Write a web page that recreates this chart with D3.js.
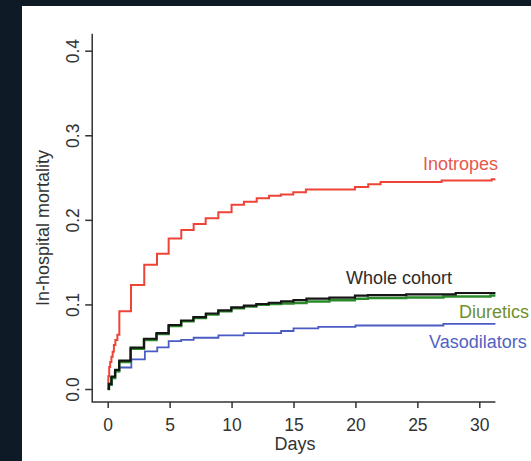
<!DOCTYPE html>
<html>
<head>
<meta charset="utf-8">
<script src="https://cdn.jsdelivr.net/npm/d3@7"></script>
<style>
  html, body { margin: 0; padding: 0; background: #0e1b27; }
  svg { display: block; }
  text { font-family: "Liberation Sans", Arial, sans-serif; }
</style>
</head>
<body>
<svg width="531" height="461"></svg>
<script>
// data: cumulative in-hospital mortality, step points (day, value)
var xTicks = [0, 5, 10, 15, 20, 25, 30]
var yTicks = [0, 0.1, 0.2, 0.3, 0.4]

var inoDays = [0, 0.05, 0.12, 0.2, 0.3, 0.4, 0.5, 0.62, 0.78, 0.94, 1.88, 2.95, 3.98, 4.92, 5.94, 6.94, 7.91, 8.93, 10.0, 11.0, 12.03, 13.02, 13.98, 14.98, 16.0, 19.96, 21.03, 22.03, 26.96, 31.0, 31.3]
var inoVals = [0, 0.015, 0.026, 0.032, 0.038, 0.044, 0.052, 0.058, 0.064, 0.092, 0.123, 0.147, 0.160, 0.178, 0.188, 0.195, 0.202, 0.209, 0.218, 0.2215, 0.2254, 0.2286, 0.230, 0.2325, 0.236, 0.2388, 0.242, 0.2447, 0.2464, 0.248, 0.248]

var allDays = [0, 0.1, 0.3, 0.6, 0.93, 1.85, 2.93, 3.94, 4.92, 5.93, 6.92, 7.93, 8.93, 9.98, 11.0, 12.0, 13.0, 14.0, 15.0, 16.05, 17.9, 19.96, 21.0, 24.1, 28.1, 31.3]
var allVals = [0, 0.006, 0.0146, 0.0225, 0.0335, 0.049, 0.0594, 0.066, 0.0757, 0.081, 0.085, 0.0893, 0.093, 0.0965, 0.0985, 0.1005, 0.102, 0.1035, 0.105, 0.1068, 0.108, 0.1103, 0.111, 0.112, 0.1135, 0.1135]

var diuDays = [0, 0.1, 0.3, 0.6, 0.93, 1.85, 2.93, 3.94, 4.92, 5.93, 6.92, 7.93, 8.93, 9.98, 11.0, 12.0, 13.0, 14.0, 15.0, 16.05, 17.9, 19.96, 21.0, 24.1, 27.1, 30.9, 31.3]
var diuVals = [0, 0.005, 0.013, 0.021, 0.032, 0.0475, 0.058, 0.065, 0.0745, 0.080, 0.084, 0.088, 0.092, 0.0955, 0.0975, 0.0995, 0.1005, 0.101, 0.1016, 0.1036, 0.1048, 0.1068, 0.1075, 0.1083, 0.1095, 0.1107, 0.1107]

var vasDays = [0, 0.1, 0.35, 0.6, 0.93, 1.91, 3.0, 4.0, 4.92, 5.93, 6.94, 8.94, 10.98, 14.0, 15.0, 17.0, 20.0, 27.1, 31.3]
var vasVals = [0, 0.005, 0.013, 0.021, 0.0254, 0.035, 0.0445, 0.0493, 0.0566, 0.058, 0.0606, 0.0635, 0.066, 0.0686, 0.0717, 0.0735, 0.0751, 0.0769, 0.0769]

var series = [
    { name: "Vasodilators", days: vasDays, vals: vasVals, color: "#4a5cc4", text: "#5163c2", w: 1.8, lx: 429, ly: 347.5, anchor: "start" },
    { name: "Inotropes", days: inoDays, vals: inoVals, color: "#ee4438", text: "#e8574d", w: 2, lx: 498, ly: 170, anchor: "end" },
    { name: "Diuretics", days: diuDays, vals: diuVals, color: "#2a8a2a", text: "#6f8f2c", w: 2.5, lx: 459, ly: 318, anchor: "start" },
    { name: "Whole cohort", days: allDays, vals: allVals, color: "#151515", text: "#2b2b2b", w: 2.2, lx: 346, ly: 283.5, anchor: "start" }
]

var svg = d3.select("svg")

// white panel on the dark page
svg.append("rect")
    .attr("x", 22).attr("y", 6)
    .attr("width", 509).attr("height", 455)
    .attr("fill", "#ffffff")

var x = d3.scaleLinear().domain([0, 30]).range([107.7, 479.3])
var y = d3.scaleLinear().domain([0, 0.4]).range([389, 50.7])

var xLim = [-1.25, 31.3]
var yLim = [-0.0155, 0.42]

var axisColor = "#333"

// L shaped frame
svg.append("path")
    .attr("d", "M" + x(xLim[0]) + "," + y(yLim[1]) + "V" + y(yLim[0]) + "H" + x(xLim[1]))
    .attr("fill", "none")
    .attr("stroke", axisColor)
    .attr("stroke-width", 1.5)

var xAxis = svg.append("g")
    .attr("transform", "translate(0," + y(yLim[0]) + ")")
    .call(d3.axisBottom(x).tickValues(xTicks).tickSize(6).tickPadding(10))
xAxis.select(".domain").remove()
xAxis.selectAll("line").attr("stroke", axisColor).attr("stroke-width", 1.5)
xAxis.selectAll("text")
    .attr("fill", "#333")
    .style("font-size", "17.5px")

var yAxis = svg.append("g")
    .attr("transform", "translate(" + x(xLim[0]) + ",0)")
    .call(d3.axisLeft(y).tickValues(yTicks).tickSize(7).tickFormat(d3.format(".1f")))
yAxis.select(".domain").remove()
yAxis.selectAll("line").attr("stroke", axisColor).attr("stroke-width", 1.5)
yAxis.selectAll("text")
    .attr("fill", "#333")
    .attr("transform", "rotate(-90)")
    .attr("x", 0)
    .attr("y", -13)
    .attr("dy", 0)
    .attr("text-anchor", "middle")
    .style("font-size", "17.5px")

// axis titles
svg.append("text")
    .attr("x", 295)
    .attr("y", 450)
    .attr("text-anchor", "middle")
    .attr("fill", "#333")
    .style("font-size", "18px")
    .text("Days")

svg.append("text")
    .attr("transform", "translate(49.3,228) rotate(-90)")
    .attr("text-anchor", "middle")
    .attr("fill", "#333")
    .style("font-size", "18px")
    .text("In-hospital mortality")

// step curves
var line = d3.line()
    .x(function (d) { return x(d[0]); })
    .y(function (d) { return y(d[1]); })
    .curve(d3.curveStepAfter)

svg.append("g")
    .selectAll("path")
    .data(series)
    .enter()
    .append("path")
    .attr("d", function (d) {
        return line(d.days.map(function (t, i) { return [t, d.vals[i]]; }));
    })
    .attr("fill", "none")
    .attr("stroke", function (d) { return d.color; })
    .attr("stroke-width", function (d) { return d.w; })

// curve labels
svg.append("g")
    .selectAll("text")
    .data(series)
    .enter()
    .append("text")
    .attr("x", function (d) { return d.lx; })
    .attr("y", function (d) { return d.ly; })
    .attr("text-anchor", function (d) { return d.anchor; })
    .attr("fill", function (d) { return d.text; })
    .style("font-size", "18px")
    .text(function (d) { return d.name; })
</script>
</body>
</html>
